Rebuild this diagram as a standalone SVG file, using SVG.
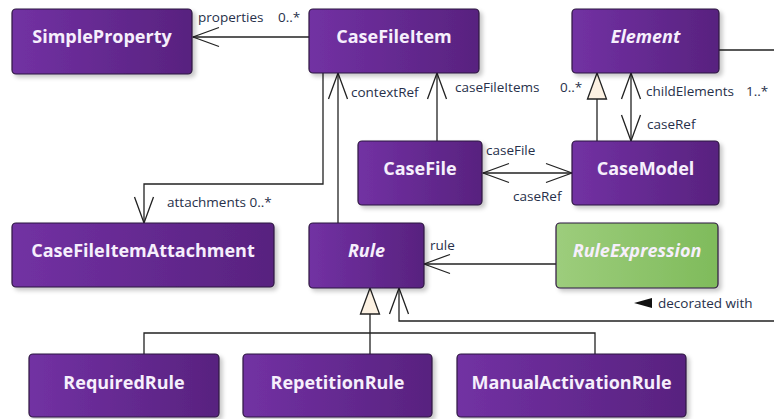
<svg xmlns="http://www.w3.org/2000/svg" width="774" height="419" viewBox="0 0 774 419">
  <defs>
    <linearGradient id="purple" x1="0" y1="0" x2="1" y2="0">
      <stop offset="0" stop-color="#7231a3"/>
      <stop offset="1" stop-color="#58227f"/>
    </linearGradient>
    <linearGradient id="green" x1="0" y1="0" x2="1" y2="0">
      <stop offset="0" stop-color="#9dcd7c"/>
      <stop offset="1" stop-color="#7fbb5b"/>
    </linearGradient>
    <filter id="shadow" x="-10%" y="-10%" width="130%" height="140%">
      <feDropShadow dx="3" dy="3" stdDeviation="2" flood-color="#000" flood-opacity="0.22"/>
    </filter>
    <!-- open navigability arrowhead, tip at the path end -->
    <marker id="open" viewBox="0 0 28 22" refX="27" refY="11" markerWidth="28" markerHeight="22" markerUnits="userSpaceOnUse" orient="auto-start-reverse">
      <path d="M1 1.5 L27 11 L1 20.5" fill="none" stroke="#222" stroke-width="1.3"/>
    </marker>
    <!-- hollow generalization triangle -->
    <marker id="gen" viewBox="0 0 28 22" refX="27" refY="11" markerWidth="28" markerHeight="22" markerUnits="userSpaceOnUse" orient="auto-start-reverse">
      <path d="M1 1.5 L27 11 L1 20.5 Z" fill="#fcf1e2" stroke="#222" stroke-width="1.3"/>
    </marker>
  </defs>
  <style>
    .node rect { stroke: #2d1840; stroke-width: 1.2; filter: url(#shadow); }
    .p rect { fill: url(#purple); }
    .g rect { fill: url(#green); }
    .node text { font-family: "Open Sans", "Liberation Sans", sans-serif; font-weight: bold; font-size: 18px; fill: #f6effc; text-anchor: middle; }
    .node text.abs { font-style: italic; }
    .conn { fill: none; stroke: #222; stroke-width: 1.3; }
    .lbl { font-family: "Open Sans", "Liberation Sans", sans-serif; font-size: 13.5px; fill: #27304a; }
  </style>

  <rect width="774" height="419" fill="#ffffff"/>

  <!-- connectors -->
  <g id="connectors">
    <!-- CaseFileItem.properties -> SimpleProperty -->
    <path class="conn" d="M309 37 H193" marker-end="url(#open)"/>
    <!-- CaseFileItem.attachments -> CaseFileItemAttachment -->
    <path class="conn" d="M323 73 V184 H144 V223" marker-end="url(#open)"/>
    <!-- Rule.contextRef -> CaseFileItem -->
    <path class="conn" d="M338 223 V73" marker-end="url(#open)"/>
    <!-- CaseFile.caseFileItems -> CaseFileItem -->
    <path class="conn" d="M437 141 V73" marker-end="url(#open)"/>
    <!-- CaseModel generalizes Element -->
    <path class="conn" d="M597 141 V73" marker-end="url(#gen)"/>
    <!-- CaseModel childElements / caseRef -->
    <path class="conn" d="M631 141 V73" marker-start="url(#open)" marker-end="url(#open)"/>
    <!-- CaseFile caseFile / caseRef -->
    <path class="conn" d="M483 173 H572" marker-start="url(#open)" marker-end="url(#open)"/>
    <!-- RuleExpression.rule -> Rule -->
    <path class="conn" d="M556 264 H424" marker-end="url(#open)"/>
    <!-- Element decorated with Rule -->
    <path class="conn" d="M719 50 H790 V321 H399 V288" marker-end="url(#open)"/>
    <!-- Rule specializations -->
    <path class="conn" d="M370 333 V288" marker-end="url(#gen)"/>
    <path class="conn" d="M144 354 V333 H595 V354 M370 333 V354"/>

    <text class="lbl" x="198" y="22">properties</text>
    <text class="lbl" x="278" y="22">0..*</text>
    <text class="lbl" x="351" y="97">contextRef</text>
    <text class="lbl" x="455" y="92">caseFileItems</text>
    <text class="lbl" x="560" y="92">0..*</text>
    <text class="lbl" x="646" y="96">childElements</text>
    <text class="lbl" x="746" y="96">1..*</text>
    <text class="lbl" x="647" y="129">caseRef</text>
    <text class="lbl" x="486" y="155">caseFile</text>
    <text class="lbl" x="513" y="201">caseRef</text>
    <text class="lbl" x="167" y="207">attachments 0..*</text>
    <text class="lbl" x="430" y="250">rule</text>
    <path d="M634 303 L652 298 L652 308 Z" fill="#111"/>
    <text class="lbl" x="658" y="308">decorated with</text>
  </g>

  <!-- nodes -->
  <g id="SimpleProperty" class="node p">
    <rect x="12" y="9" width="180" height="65" rx="4"/>
    <text x="102" y="43">SimpleProperty</text>
  </g>
  <g id="CaseFileItem" class="node p">
    <rect x="309" y="9" width="170" height="64" rx="4"/>
    <text x="394" y="43">CaseFileItem</text>
  </g>
  <g id="Element" class="node p">
    <rect x="572" y="9" width="147" height="64" rx="4"/>
    <text class="abs" x="645.5" y="43">Element</text>
  </g>
  <g id="CaseFile" class="node p">
    <rect x="358" y="141" width="124" height="64" rx="4"/>
    <text x="420" y="175">CaseFile</text>
  </g>
  <g id="CaseModel" class="node p">
    <rect x="572" y="141" width="147" height="64" rx="4"/>
    <text x="645.5" y="175">CaseModel</text>
  </g>
  <g id="CaseFileItemAttachment" class="node p">
    <rect x="12" y="223" width="262" height="64" rx="4"/>
    <text x="143" y="257">CaseFileItemAttachment</text>
  </g>
  <g id="Rule" class="node p">
    <rect x="309" y="223" width="115" height="65" rx="4"/>
    <text class="abs" x="366.5" y="257">Rule</text>
  </g>
  <g id="RuleExpression" class="node g">
    <rect x="556" y="223" width="162" height="65" rx="4"/>
    <text class="abs" x="637" y="257">RuleExpression</text>
  </g>
  <g id="RequiredRule" class="node p">
    <rect x="29" y="354" width="190" height="63" rx="4"/>
    <text x="124" y="389">RequiredRule</text>
  </g>
  <g id="RepetitionRule" class="node p">
    <rect x="243" y="354" width="189" height="63" rx="4"/>
    <text x="337.5" y="389">RepetitionRule</text>
  </g>
  <g id="ManualActivationRule" class="node p">
    <rect x="457" y="354" width="229" height="63" rx="4"/>
    <text x="571.5" y="389">ManualActivationRule</text>
  </g>
</svg>
